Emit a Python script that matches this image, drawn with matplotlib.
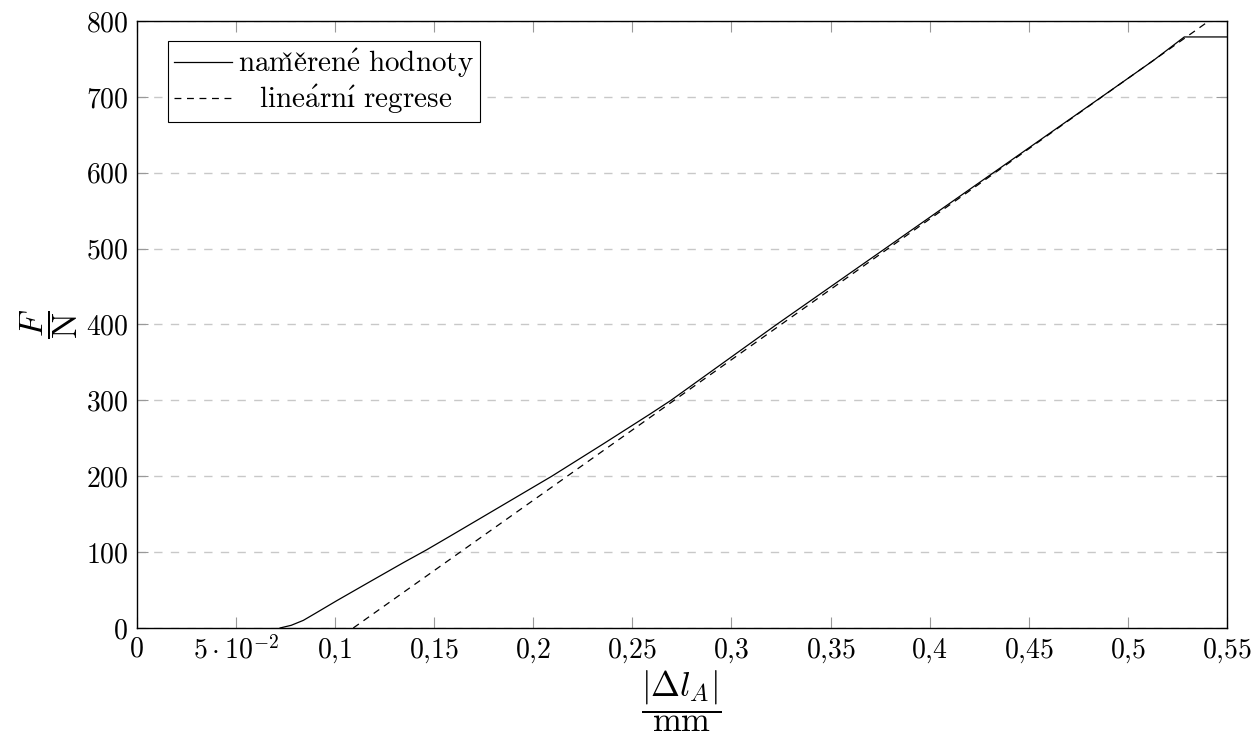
import numpy as np
import matplotlib
matplotlib.use("Agg")
import matplotlib.pyplot as plt

plt.rcParams['mathtext.fontset'] = 'cm'
plt.rcParams['font.family'] = ['cmr10', 'DejaVu Serif']
plt.rcParams['axes.unicode_minus'] = False

dl = [0.0724, 0.078, 0.0841, 0.09, 0.101, 0.1177, 0.1345, 0.1463, 0.1581, 0.175,
      0.2094, 0.235, 0.259, 0.2695, 0.3228, 0.3775, 0.4321, 0.4867, 0.5128, 0.5284, 0.55]
F = [0, 3.5, 10, 19, 36, 61, 86, 103, 121, 147,
     200, 242, 282, 300, 400, 500, 600, 700, 748, 779, 779]

# linear regression F = k*(dl - dl0)
k = 1854.0
dl0 = 0.1093

xticks = [0, 0.05, 0.1, 0.15, 0.2, 0.25, 0.3, 0.35, 0.4, 0.45, 0.5, 0.55]
xticklabels = ['$0$', r'$5\cdot10^{-2}$', '$0{,}1$', '$0{,}15$', '$0{,}2$', '$0{,}25$',
               '$0{,}3$', '$0{,}35$', '$0{,}4$', '$0{,}45$', '$0{,}5$', '$0{,}55$']
yticks = [0, 100, 200, 300, 400, 500, 600, 700, 800]

fig = plt.figure(figsize=(12.55, 7.40), dpi=100)
ax = fig.add_axes([0.1088, 0.1514, 0.869, 0.8202])

ax.plot(dl, F, color='black', lw=0.9,
        label=r'$\mathrm{nam\check{e}\check{r}en\acute{e}\ hodnoty}$')
xr = np.array([dl0, 0.55])
ax.plot(xr, k * (xr - dl0), color='black', lw=0.9, linestyle=(0, (5.5, 4.5)),
        label=r'$\;\;\;\mathrm{line\acute{a}rn\acute{ı}\ regrese}$')

ax.set_xlim(0, 0.55)
ax.set_ylim(0, 800)
ax.set_xticks(xticks)
ax.set_xticklabels(xticklabels)
ax.set_yticks(yticks)
ax.set_yticklabels(['$%d$' % v for v in yticks])
ax.tick_params(direction='in', length=8, width=0.8, color='#999999',
               labelsize=20, top=True, right=True, pad=6)
ax.yaxis.grid(True, color='#c8c8c8', lw=1.0, linestyle=(0, (6, 6)))
ax.set_axisbelow(True)
for s in ax.spines.values():
    s.set_linewidth(1.0)

ax.set_xlabel(r'$\dfrac{|\Delta l_A|}{\mathrm{mm}}$', fontsize=25, labelpad=2)
ax.set_ylabel(r'$\dfrac{F}{\mathrm{N}}$', fontsize=25, labelpad=4)

leg = ax.legend(loc='upper left', fontsize=21, frameon=True, fancybox=False,
                edgecolor='black', framealpha=1, handlelength=2.0,
                handletextpad=0.2, borderpad=0.2, labelspacing=0.1,
                borderaxespad=0, bbox_to_anchor=(0.029, 0.967))
leg.get_frame().set_linewidth(0.8)

plt.savefig('out.png', dpi=100)
